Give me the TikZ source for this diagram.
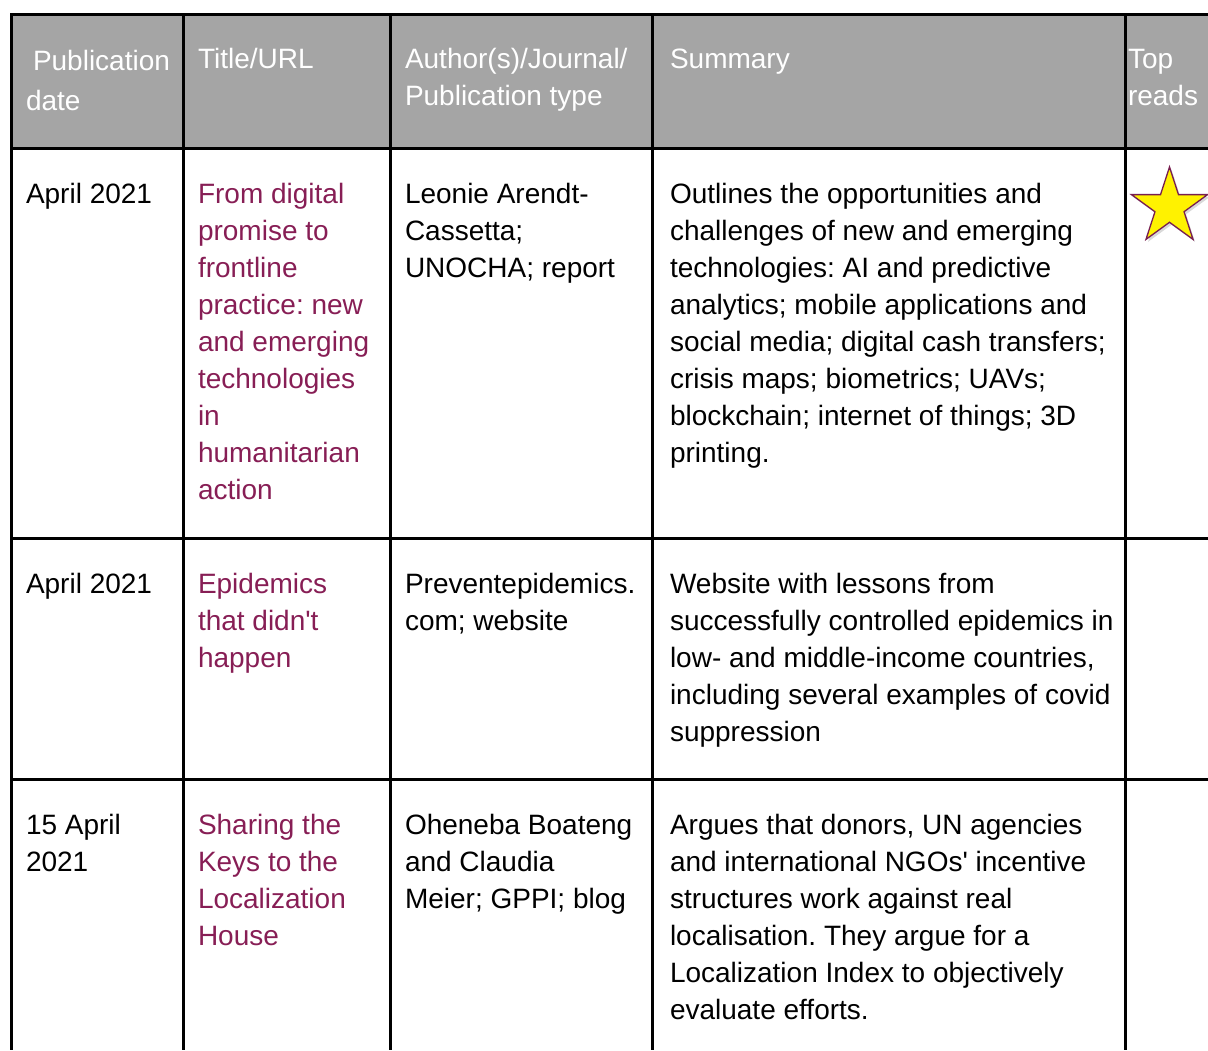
\documentclass[tikz,border=0pt]{standalone}
\usepackage{fontspec}
\setmainfont{Liberation Sans}[Ligatures=TeXOff]
\usetikzlibrary{shapes.geometric,shadows}
\definecolor{hdrgray}{HTML}{A5A5A5}
\definecolor{lnk}{RGB}{135,30,85}
\definecolor{starline}{RGB}{120,30,80}
\newcommand{\mycell}[2]{\parbox[t]{#1pt}{\fontsize{28}{37}\selectfont\frenchspacing\raggedright #2}}
\begin{document}
\begin{tikzpicture}[x=1pt,y=-1pt,
  cell/.style={anchor=base west,inner sep=0pt,outer sep=0pt},
  hcell/.style={cell,text=white},
  lcell/.style={cell,text=lnk},
  gridline/.style={line width=3pt,black}]
\useasboundingbox (0,0) rectangle (1208,1050);
\clip (0,0) rectangle (1208,1050);
% header background
\fill[hdrgray] (11.5,14.5) rectangle (1208,148);
% grid
\draw[gridline] (10,14.5) -- (1208,14.5);
\draw[gridline] (10,148) -- (1208,148);
\draw[gridline] (10,538) -- (1208,538);
\draw[gridline] (10,779) -- (1208,779);
\draw[gridline] (11.5,13) -- (11.5,1050);
\draw[gridline] (183.5,13) -- (183.5,1050);
\draw[gridline] (390.5,13) -- (390.5,1050);
\draw[gridline] (652,13) -- (652,1050);
\draw[gridline] (1125.5,13) -- (1125.5,1050);
% header texts
\node[hcell] (h1) at (26,70) {\parbox[t]{160pt}{\fontsize{28}{40}\selectfont\raggedright\hspace*{7pt}Publication\\date}};
\node[hcell] (h2) at (198,68) {\mycell{180}{Title/URL}};
\node[hcell] (h3) at (405,68) {\mycell{240}{Author(s)/Journal/\\Publication type}};
\node[hcell] (h4) at (670,68) {\mycell{440}{Summary}};
\node[hcell] (h5) at (1128,68) {\mycell{80}{Top\\reads}};
% row 1
\node[cell] (r1c1) at (26,203) {\mycell{150}{April 2021}};
\node[lcell] (r1c2) at (198,203) {\mycell{185}{From digital\\promise to\\frontline\\practice: new\\and emerging\\technologies\\in\\humanitarian\\action}};
\node[cell] (r1c3) at (405,203) {\mycell{240}{Leonie Arendt-\\Cassetta;\\UNOCHA; report}};
\node[cell] (r1c4) at (670,203) {\mycell{460}{Outlines the opportunities and\\challenges of new and emerging\\technologies: AI and predictive\\analytics; mobile applications and\\social media; digital cash transfers;\\crisis maps; biometrics; UAVs;\\blockchain; internet of things; 3D\\printing.}};
\node[star,star points=5,star point ratio=2.618,minimum size=80pt,inner sep=0pt,
  fill=yellow,draw=starline,line width=1.3pt,
  drop shadow={opacity=0.3,shadow xshift=2pt,shadow yshift=-2.5pt}] (star) at (1169.5,207) {};
% row 2
\node[cell] (r2c1) at (26,593) {\mycell{150}{April 2021}};
\node[lcell] (r2c2) at (198,593) {\mycell{185}{Epidemics\\that didn't\\happen}};
\node[cell] (r2c3) at (405,593) {\mycell{240}{Preventepidemics.\\com; website}};
\node[cell] (r2c4) at (670,593) {\mycell{460}{Website with lessons from\\successfully controlled epidemics in\\low- and middle-income countries,\\including several examples of covid\\suppression}};
% row 3
\node[cell] (r3c1) at (26,834) {\mycell{150}{15 April\\2021}};
\node[lcell] (r3c2) at (198,834) {\mycell{185}{Sharing the\\Keys to the\\Localization\\House}};
\node[cell] (r3c3) at (405,834) {\mycell{240}{Oheneba Boateng\\and Claudia\\Meier; GPPI; blog}};
\node[cell] (r3c4) at (670,834) {\mycell{460}{Argues that donors, UN agencies\\and international NGOs' incentive\\structures work against real\\localisation. They argue for a\\Localization Index to objectively\\evaluate efforts.}};
\end{tikzpicture}
\end{document}
